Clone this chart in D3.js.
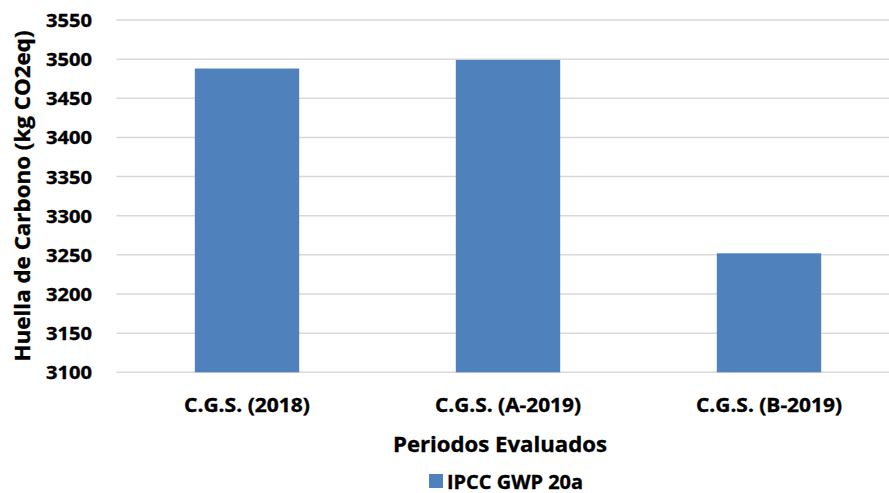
<!DOCTYPE html>
<html>
<head>
<meta charset="utf-8">
<script src="https://cdn.jsdelivr.net/npm/d3@7"></script>
<style>
  html, body { margin: 0; padding: 0; background: #fff; }
  svg text { font-family: "Open Sans", "Liberation Sans", sans-serif; font-weight: 700; fill: #000; stroke: #000; stroke-width: 0.35px; }
</style>
</head>
<body>
<svg id="chart" width="889" height="493"></svg>
<script>
// Carbon footprint per evaluated period
const periods = ["C.G.S. (2018)", "C.G.S. (A-2019)", "C.G.S. (B-2019)"];
const footprint = [3488, 3499, 3252];
const yTicks = [3100, 3150, 3200, 3250, 3300, 3350, 3400, 3450, 3500, 3550];
const seriesName = "IPCC GWP 20a";
const yTitle = "Huella de Carbono (kg CO2eq)";
const xTitle = "Periodos Evaluados";

const svg = d3.select("#chart");
const barColor = "#4f81bd";
const gridColor = "#d9d9d9";

const x = d3.scaleBand().domain(periods).range([116.5, 899.5]).paddingInner(0.6).paddingOuter(0.3);
const y = d3.scaleLinear().domain([3100, 3550]).range([372.3, 20]);

// fit a text element to a given width
function fitWidth(sel, w) {
  sel.attr("textLength", w).attr("lengthAdjust", "spacingAndGlyphs");
}

// gridlines
svg.append("g")
  .selectAll("line")
  .data(yTicks)
  .join("line")
  .attr("x1", 116.5).attr("x2", 889)
  .attr("y1", d => y(d)).attr("y2", d => y(d))
  .attr("stroke", gridColor).attr("stroke-width", 1.5);

// y axis labels
const yAxis = svg.append("g")
  .attr("transform", "translate(92,0)")
  .call(d3.axisLeft(y).tickValues(yTicks).tickSize(0).tickPadding(0).tickFormat(d3.format("d")));
yAxis.select(".domain").remove();
yAxis.selectAll("text").attr("font-size", 18).style("font-family", "Open Sans").style("font-weight", 700).attr("dy", "0.36em");
fitWidth(yAxis.selectAll("text"), 46);

// bars
svg.append("g")
  .selectAll("rect")
  .data(periods)
  .join("rect")
  .attr("x", d => x(d))
  .attr("width", x.bandwidth())
  .attr("y", (d, i) => y(footprint[i]))
  .attr("height", (d, i) => y(3100) - y(footprint[i]))
  .attr("fill", barColor);

// category labels
const xAxis = svg.append("g")
  .attr("transform", "translate(0,372.3)")
  .call(d3.axisBottom(x).tickSize(0).tickPadding(0));
xAxis.select(".domain").remove();
const catW = [126, 146, 146];
xAxis.selectAll("text").attr("font-size", 19).style("font-family", "Open Sans").style("font-weight", 700)
  .attr("y", 40).attr("dy", 0)
  .each(function (d, i) { fitWidth(d3.select(this), catW[i]); });

// axis titles
const xt = svg.append("text")
  .attr("x", 500).attr("y", 452)
  .attr("text-anchor", "middle")
  .attr("font-size", 22)
  .text(xTitle);
fitWidth(xt, 214);

svg.append("text")
  .attr("transform", "translate(30,196) rotate(-90)")
  .attr("text-anchor", "middle")
  .attr("font-size", 21)
  .attr("textLength", 331).attr("lengthAdjust", "spacingAndGlyphs")
  .text(yTitle);

// legend
svg.append("rect")
  .attr("x", 429).attr("y", 474).attr("width", 14).attr("height", 14)
  .attr("fill", barColor);
const lt = svg.append("text")
  .attr("x", 447).attr("y", 488.5)
  .attr("font-size", 20)
  .text(seriesName);
fitWidth(lt, 136);
</script>
</body>
</html>
